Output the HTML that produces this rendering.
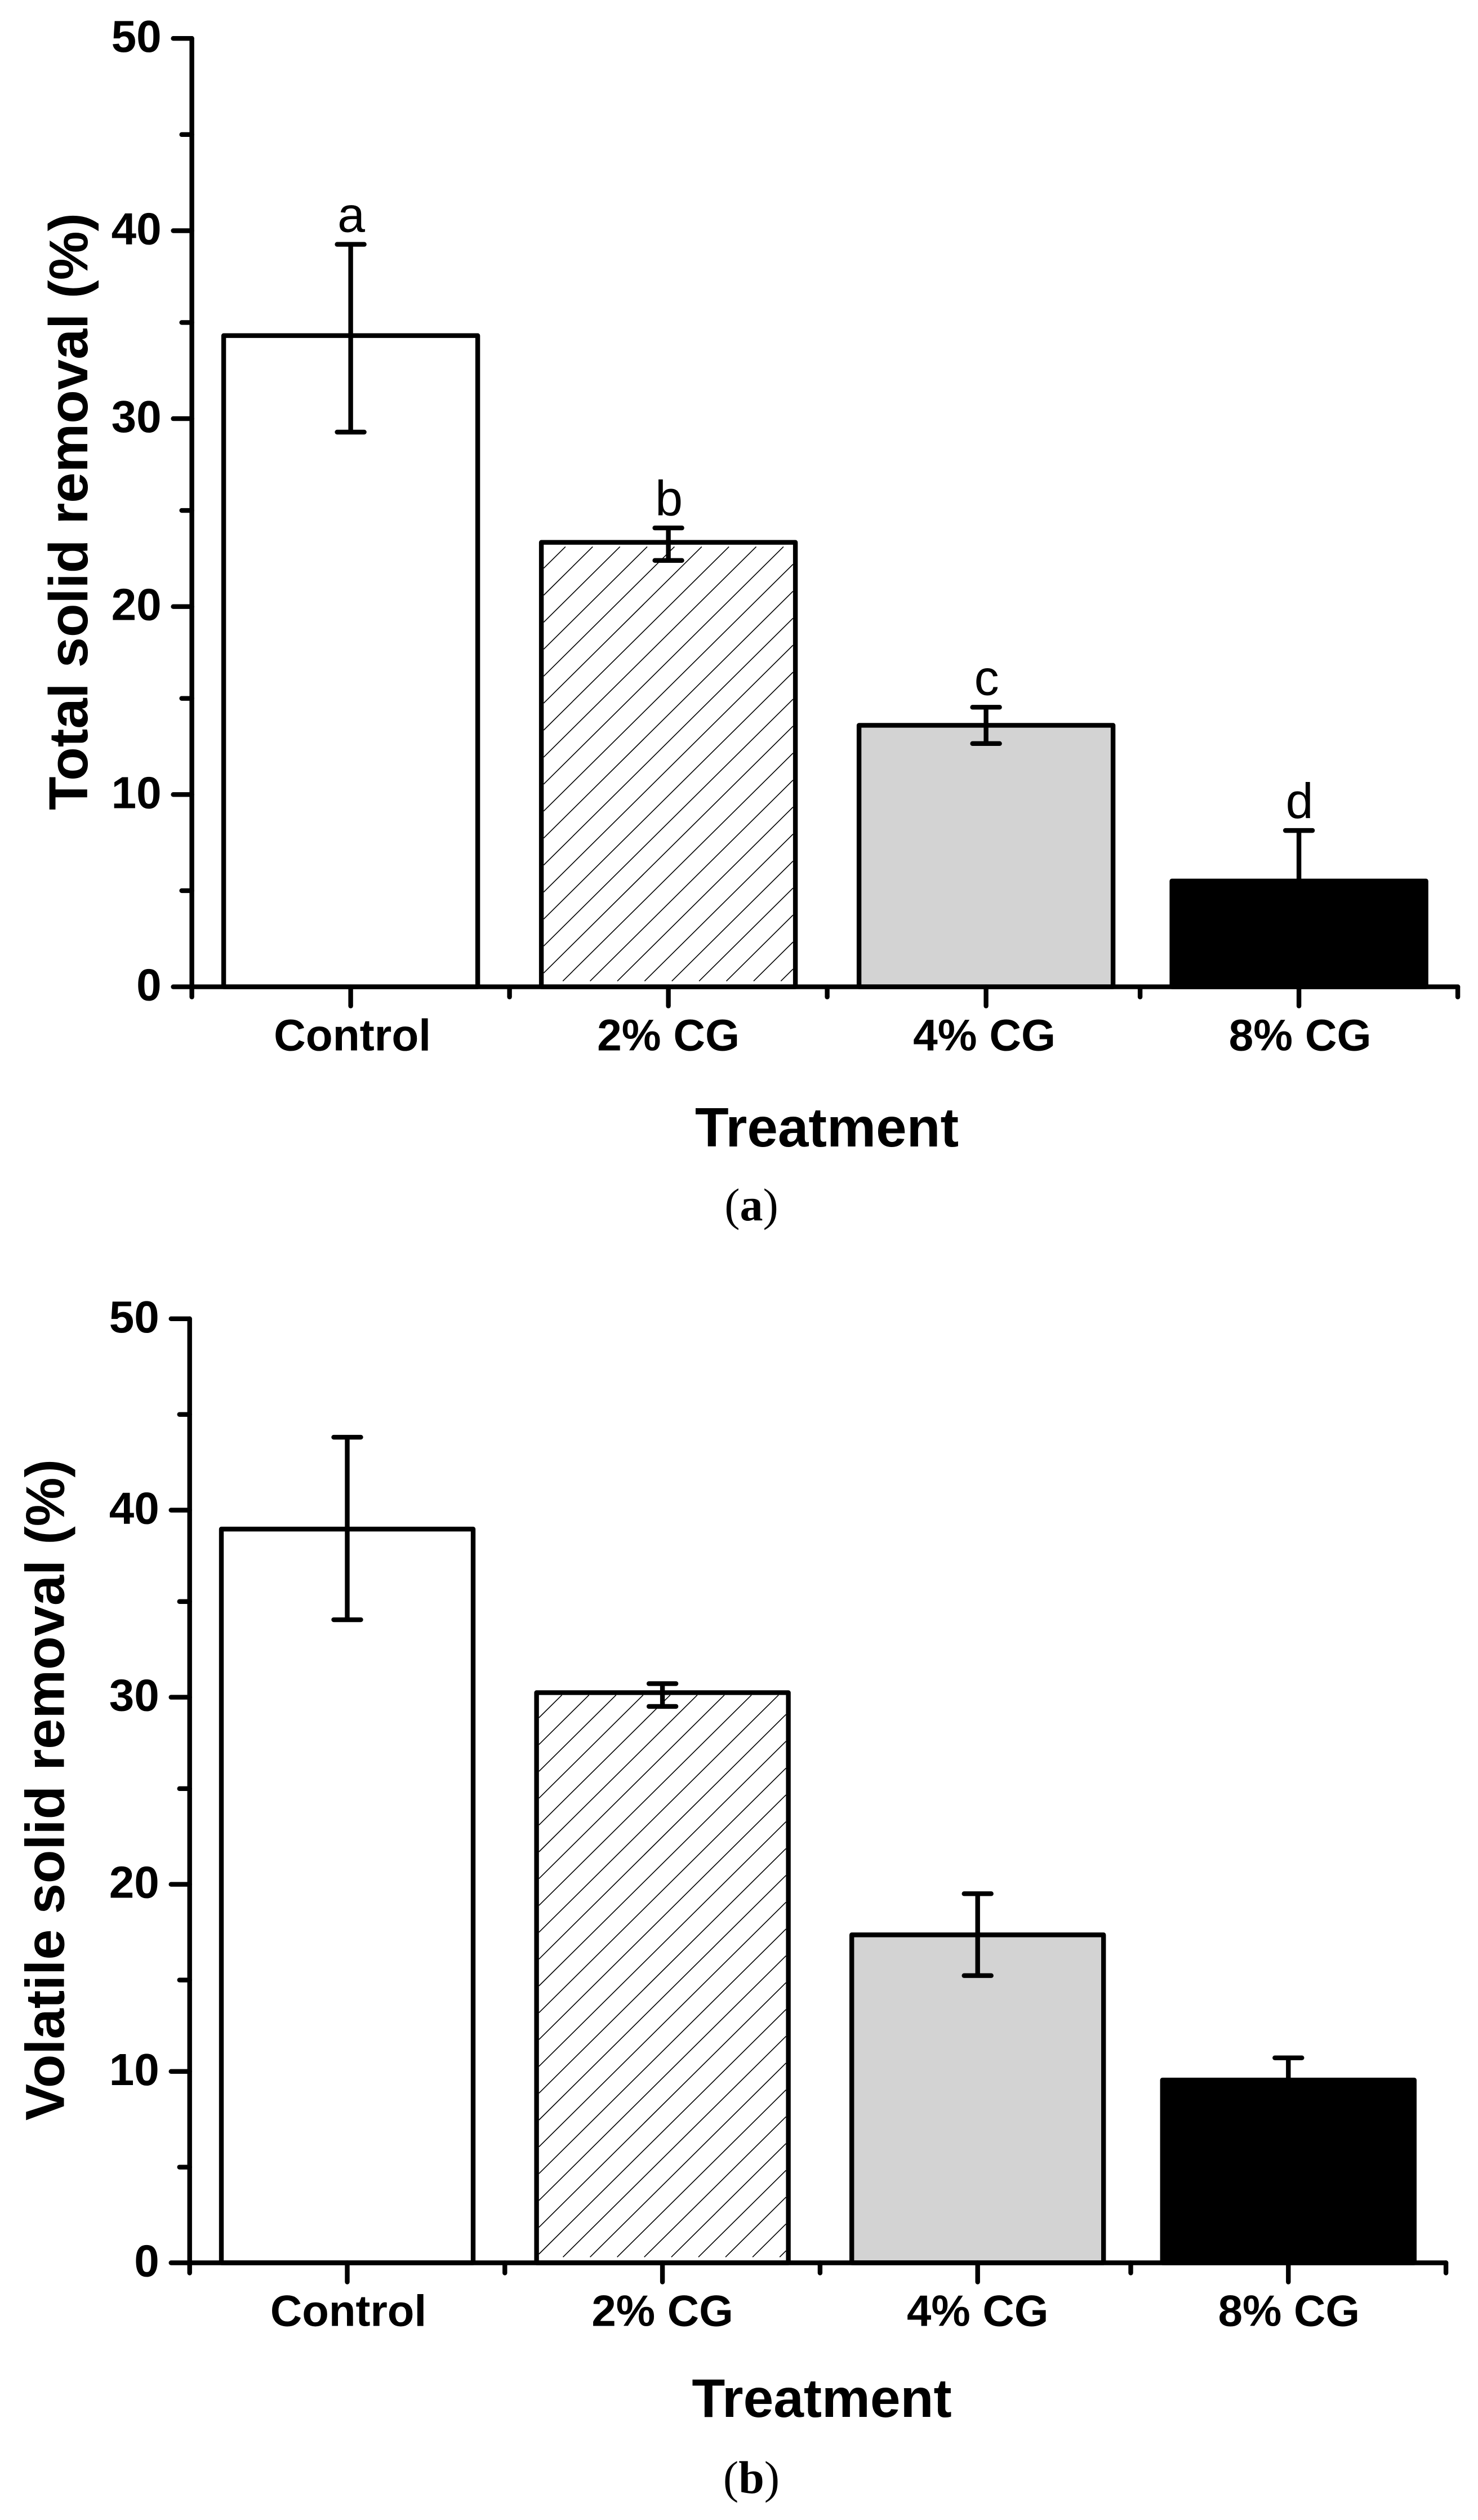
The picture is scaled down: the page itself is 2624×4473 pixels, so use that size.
<!DOCTYPE html>
<html lang="en">
<head>
<meta charset="utf-8">
<title>Total and volatile solid removal by treatment</title>
<style>
  html, body { margin: 0; padding: 0; background: #fff; }
  svg { display: block; }
  text { fill: #000; font-family: "Liberation Sans", Arial, sans-serif; }
  .bold { font-weight: 700; }
  .cap { font-family: "Liberation Serif", "Times New Roman", serif; font-size: 82px; }
</style>
</head>
<body>
<svg id="figure" xmlns="http://www.w3.org/2000/svg" width="2624" height="4473" viewBox="0 0 2624 4473">
  <rect x="0" y="0" width="2624" height="4473" fill="#fff"/>
  <g id="panel-a"></g>
  <g id="panel-b"></g>

  <text class="bold" font-size="97.5" text-anchor="middle" transform="translate(155 908) rotate(-90)">Total solid removal (%)</text>
  <text class="bold" font-size="98" text-anchor="middle" x="1468" y="2035">Treatment</text>
  <text class="cap" text-anchor="middle" x="1334" y="2166">(<tspan font-weight="700">a</tspan>)</text>

  <text class="bold" font-size="97.5" text-anchor="middle" transform="translate(113.5 3177) rotate(-90)">Volatile solid removal (%)</text>
  <text class="bold" font-size="96.5" text-anchor="middle" x="1459" y="4290">Treatment</text>
  <text class="cap" text-anchor="middle" x="1334" y="4425">(<tspan font-weight="700">b</tspan>)</text>
</svg>

<script>
// Shared axis content
const categories = ['Control', '2% CG', '4% CG', '8% CG'];
const yMajorTicks = [0, 10, 20, 30, 40, 50];
const yMinorTicks = [5, 15, 25, 35, 45];
const xMinorTicks = [0.5, 1.5, 2.5, 3.5, 4.5];

// Panel (a): total solid removal (%)
const totalSolidValues = [34.32, 23.34, 13.6, 5.5];
const totalSolidUpper = [39.29, 24.09, 14.54, 8.13];
const totalSolidLower = [29.3, 22.4, 12.65, 2.87];
const significanceLetters = ['a', 'b', 'c', 'd'];

// Panel (b): volatile solid removal (%)
const volatileSolidValues = [39.01, 30.24, 17.36, 9.55];
const volatileSolidUpper = [43.81, 30.71, 19.51, 10.71];
const volatileSolidLower = [34.05, 29.52, 15.23, 8.39];

const SVG_NS = 'http://www.w3.org/2000/svg';
const STROKE = 8.4;

function make(parent, tag, attrs) {
  const el = document.createElementNS(SVG_NS, tag);
  for (const key in attrs) el.setAttribute(key, attrs[key]);
  parent.appendChild(el);
  return el;
}

function line(parent, x1, y1, x2, y2, cap, width) {
  return make(parent, 'line', {
    x1: x1, y1: y1, x2: x2, y2: y2,
    stroke: '#000',
    'stroke-width': width || STROKE,
    'stroke-linecap': cap || 'round'
  });
}

// The source figure has thin raster strips missing, so each axis is a linear
// scale minus a fixed cut past each break value.
function makeYScale(top, unit, breaks, cut) {
  return function (v) {
    let y = top + unit * (50 - v);
    breaks.forEach(function (b) { if (v < b) y -= cut; });
    return y;
  };
}

function makeXScale(left, band, breakAt, cut) {
  return function (c) {
    let x = left + band * (c - 0.5);
    if (c > breakAt) x -= cut;
    return x;
  };
}

function drawPanel(root, opt) {
  const x = opt.x;
  const y = opt.y;
  const y0 = y(0);
  const fills = ['#ffffff', '#ffffff', '#d3d3d3', '#000000'];

  categories.forEach(function (cat, i) {
    const slug = cat.toLowerCase().replace('% ', 'pct-');
    const cx = x(i + 1);
    const top = y(opt.values[i]);
    const left = cx - opt.barWidth / 2;

    const bar = make(root, 'rect', {
      x: left, y: top, width: opt.barWidth, height: y0 - top,
      fill: fills[i], stroke: '#000',
      'stroke-width': STROKE, 'stroke-linejoin': 'round'
    });
    
    

    if (i === 1) {
      const hatch = make(root, 'g', {});
      
      
      const innerL = left + STROKE / 2;
      const innerR = left + opt.barWidth - STROKE / 2;
      const clipTop = top + STROKE / 2 + opt.hatchTopGap;
      const clipBottom = y0 - STROKE / 2 - 6;
      const slope = 0.99;
      const startY = opt.hatchStart - opt.hatchStep * 3;
      for (let yL = startY; yL - (innerR - innerL) * slope < clipBottom; yL += opt.hatchStep) {
        // Clip each diagonal analytically to the inside of the bar.
        let xa = innerL, ya = yL, xb = innerR, yb = yL - (innerR - innerL) * slope;
        if (ya > clipBottom) { xa = innerL + (ya - clipBottom) / slope; ya = clipBottom; }
        if (yb < clipTop) { xb = innerR - (clipTop - yb) / slope; yb = clipTop; }
        if (xa >= xb) continue;
        const stripe = line(hatch, xa, ya, xb, yb, 'butt', 1.6);
        
        
      }
    }

    const errorBar = make(root, 'g', {});
    
    
    const yUp = y(opt.upper[i]);
    const yLo = y(opt.lower[i]);
    line(errorBar, cx, yUp, cx, yLo, 'butt');
    line(errorBar, cx - 24, yUp, cx + 24, yUp);
    line(errorBar, cx - 24, yLo, cx + 24, yLo);

    if (opt.letters) {
      const letter = make(root, 'text', {
        x: cx + 1, y: yUp - 22, 'text-anchor': 'middle', 'font-size': 88
      });
      letter.textContent = opt.letters[i];
      
      
    }
  });

  const xEnd = x(4.5);
  const xStart = x(0.5);

  const yAxis = line(root, xStart, y(50), xStart, y0);
  
  

  const xAxis = line(root, xStart, y0, xEnd, y0);
  
  

  yMajorTicks.forEach(function (v) {
    const tick = line(root, xStart - 33, y(v), xStart, y(v));
    
    
    const label = make(root, 'text', {
      x: xStart - 54, y: y(v) + 24, 'text-anchor': 'end', 'font-size': 80, 'font-weight': 700
    });
    label.textContent = String(v);
    
    
  });

  yMinorTicks.forEach(function (v) {
    const tick = line(root, xStart - 18, y(v), xStart, y(v));
    
    
  });

  xMinorTicks.forEach(function (c) {
    const tick = line(root, x(c), y0, x(c), y0 + 18);
    
    
  });

  categories.forEach(function (cat, i) {
    const slug = cat.toLowerCase().replace('% ', 'pct-');
    const cx = x(i + 1);
    const tick = line(root, cx, y0, cx, y0 + 34);
    
    
    const label = make(root, 'text', {
      x: cx + opt.labelShift[i], y: y0 + opt.labelDrop, 'text-anchor': 'middle', 'font-size': opt.labelSize, 'font-weight': 700
    });
    label.textContent = cat;
    
    
  });
}

drawPanel(document.getElementById('panel-a'), {
  x: makeXScale(340.6, 564, 3.25, 8.5),
  y: makeYScale(68.2, 34.13, [37.5, 27.5, 17.5], 7.7),
  barWidth: 451,
  values: totalSolidValues,
  upper: totalSolidUpper,
  lower: totalSolidLower,
  letters: significanceLetters,
  hatchStart: 1008.6,
  hatchStep: 47.9,
  hatchTopGap: 3.5,
  labelDrop: 113,
  labelSize: 78.5,
  labelShift: [3, 0, -3, 2]
});

drawPanel(document.getElementById('panel-b'), {
  x: makeXScale(336.7, 559.6, 3.25, 8),
  y: makeYScale(2340.8, 33.97, [37.5, 27.5, 12.5], 7.6),
  barWidth: 447,
  values: volatileSolidValues,
  upper: volatileSolidUpper,
  lower: volatileSolidLower,
  letters: null,
  hatchStart: 3049,
  hatchStep: 47.6,
  hatchTopGap: 0,
  labelDrop: 112,
  labelSize: 78,
  labelShift: [2, 0, 0, 1]
});
</script>
</body>
</html>
